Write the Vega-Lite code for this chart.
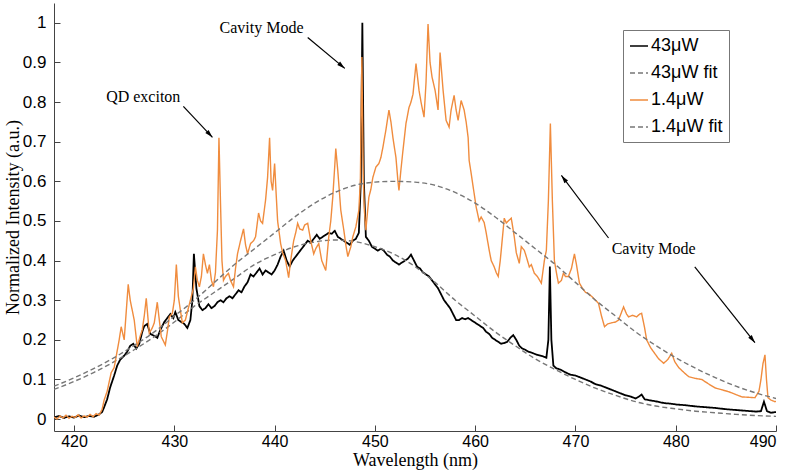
{
  "$schema": "https://vega.github.io/schema/vega-lite/v6.json",
  "width": 722,
  "height": 428,
  "autosize": {"type": "none"},
  "padding": {"left": 54, "top": 3, "right": 20, "bottom": 43},
  "background": "white",
  "config": {
    "view": {"stroke": null},
    "axis": {"grid": false, "domainColor": "#444", "tickColor": "#444", "labelColor": "#000", "labelFont": "Liberation Sans", "labelFontSize": 17, "titleFont": "Liberation Serif", "titleFontSize": 18, "titleFontWeight": "normal", "titleColor": "#000", "tickSize": -6, "domainWidth": 1, "tickWidth": 1}
  },
  "datasets": {
    "spec": [
      {"s":"43μW","wl":418.0,"v":0.004},{"s":"43μW","wl":418.5,"v":0.008},{"s":"43μW","wl":419.0,"v":0.003},{"s":"43μW","wl":419.5,"v":0.007},{"s":"43μW","wl":420.0,"v":0.004},{"s":"43μW","wl":420.5,"v":0.009},{"s":"43μW","wl":421.0,"v":0.005},{"s":"43μW","wl":421.5,"v":0.008},{"s":"43μW","wl":422.0,"v":0.006},{"s":"43μW","wl":422.5,"v":0.012},{"s":"43μW","wl":422.8,"v":0.018},{"s":"43μW","wl":423.0,"v":0.03},{"s":"43μW","wl":423.3,"v":0.05},{"s":"43μW","wl":423.6,"v":0.08},{"s":"43μW","wl":424.0,"v":0.11},{"s":"43μW","wl":424.3,"v":0.135},{"s":"43μW","wl":424.6,"v":0.15},{"s":"43μW","wl":425.0,"v":0.16},{"s":"43μW","wl":425.3,"v":0.17},{"s":"43μW","wl":425.6,"v":0.185},{"s":"43μW","wl":425.9,"v":0.19},{"s":"43μW","wl":426.2,"v":0.178},{"s":"43μW","wl":426.5,"v":0.19},{"s":"43μW","wl":426.8,"v":0.22},{"s":"43μW","wl":427.0,"v":0.235},{"s":"43μW","wl":427.3,"v":0.24},{"s":"43μW","wl":427.6,"v":0.215},{"s":"43μW","wl":428.0,"v":0.21},{"s":"43μW","wl":428.3,"v":0.205},{"s":"43μW","wl":428.6,"v":0.225},{"s":"43μW","wl":429.0,"v":0.245},{"s":"43μW","wl":429.3,"v":0.255},{"s":"43μW","wl":429.6,"v":0.265},{"s":"43μW","wl":429.9,"v":0.255},{"s":"43μW","wl":430.1,"v":0.27},{"s":"43μW","wl":430.4,"v":0.25},{"s":"43μW","wl":430.7,"v":0.245},{"s":"43μW","wl":431.0,"v":0.24},{"s":"43μW","wl":431.3,"v":0.23},{"s":"43μW","wl":431.6,"v":0.25},{"s":"43μW","wl":431.8,"v":0.3},{"s":"43μW","wl":431.95,"v":0.417},{"s":"43μW","wl":432.2,"v":0.33},{"s":"43μW","wl":432.5,"v":0.285},{"s":"43μW","wl":432.8,"v":0.275},{"s":"43μW","wl":433.1,"v":0.28},{"s":"43μW","wl":433.4,"v":0.29},{"s":"43μW","wl":433.7,"v":0.28},{"s":"43μW","wl":434.0,"v":0.285},{"s":"43μW","wl":434.3,"v":0.295},{"s":"43μW","wl":434.6,"v":0.3},{"s":"43μW","wl":434.9,"v":0.295},{"s":"43μW","wl":435.2,"v":0.305},{"s":"43μW","wl":435.5,"v":0.31},{"s":"43μW","wl":435.8,"v":0.305},{"s":"43μW","wl":436.1,"v":0.315},{"s":"43μW","wl":436.4,"v":0.325},{"s":"43μW","wl":436.7,"v":0.32},{"s":"43μW","wl":437.0,"v":0.335},{"s":"43μW","wl":437.3,"v":0.345},{"s":"43μW","wl":437.6,"v":0.365},{"s":"43μW","wl":437.9,"v":0.36},{"s":"43μW","wl":438.2,"v":0.37},{"s":"43μW","wl":438.5,"v":0.38},{"s":"43μW","wl":438.8,"v":0.365},{"s":"43μW","wl":439.1,"v":0.375},{"s":"43μW","wl":439.4,"v":0.37},{"s":"43μW","wl":439.7,"v":0.365},{"s":"43μW","wl":440.0,"v":0.375},{"s":"43μW","wl":440.3,"v":0.39},{"s":"43μW","wl":440.6,"v":0.41},{"s":"43μW","wl":440.9,"v":0.425},{"s":"43μW","wl":441.2,"v":0.4},{"s":"43μW","wl":441.5,"v":0.385},{"s":"43μW","wl":441.8,"v":0.4},{"s":"43μW","wl":442.1,"v":0.41},{"s":"43μW","wl":442.4,"v":0.42},{"s":"43μW","wl":442.7,"v":0.43},{"s":"43μW","wl":443.0,"v":0.44},{"s":"43μW","wl":443.3,"v":0.45},{"s":"43μW","wl":443.6,"v":0.445},{"s":"43μW","wl":443.9,"v":0.455},{"s":"43μW","wl":444.2,"v":0.465},{"s":"43μW","wl":444.5,"v":0.455},{"s":"43μW","wl":444.8,"v":0.46},{"s":"43μW","wl":445.1,"v":0.465},{"s":"43μW","wl":445.4,"v":0.47},{"s":"43μW","wl":445.7,"v":0.468},{"s":"43μW","wl":446.0,"v":0.475},{"s":"43μW","wl":446.3,"v":0.46},{"s":"43μW","wl":446.6,"v":0.455},{"s":"43μW","wl":446.9,"v":0.45},{"s":"43μW","wl":447.2,"v":0.445},{"s":"43μW","wl":447.5,"v":0.44},{"s":"43μW","wl":447.8,"v":0.45},{"s":"43μW","wl":448.1,"v":0.455},{"s":"43μW","wl":448.4,"v":0.47},{"s":"43μW","wl":448.6,"v":0.6},{"s":"43μW","wl":448.75,"v":1.0},{"s":"43μW","wl":448.9,"v":0.6},{"s":"43μW","wl":449.1,"v":0.46},{"s":"43μW","wl":449.4,"v":0.45},{"s":"43μW","wl":449.7,"v":0.435},{"s":"43μW","wl":450.0,"v":0.43},{"s":"43μW","wl":450.3,"v":0.425},{"s":"43μW","wl":450.6,"v":0.43},{"s":"43μW","wl":450.9,"v":0.425},{"s":"43μW","wl":451.2,"v":0.415},{"s":"43μW","wl":451.5,"v":0.41},{"s":"43μW","wl":451.8,"v":0.4},{"s":"43μW","wl":452.1,"v":0.395},{"s":"43μW","wl":452.4,"v":0.39},{"s":"43μW","wl":452.7,"v":0.395},{"s":"43μW","wl":453.0,"v":0.4},{"s":"43μW","wl":453.3,"v":0.405},{"s":"43μW","wl":453.6,"v":0.415},{"s":"43μW","wl":453.9,"v":0.4},{"s":"43μW","wl":454.2,"v":0.385},{"s":"43μW","wl":454.5,"v":0.38},{"s":"43μW","wl":454.8,"v":0.37},{"s":"43μW","wl":455.1,"v":0.365},{"s":"43μW","wl":455.4,"v":0.36},{"s":"43μW","wl":455.7,"v":0.35},{"s":"43μW","wl":456.0,"v":0.34},{"s":"43μW","wl":456.3,"v":0.33},{"s":"43μW","wl":456.6,"v":0.315},{"s":"43μW","wl":456.9,"v":0.3},{"s":"43μW","wl":457.2,"v":0.29},{"s":"43μW","wl":457.5,"v":0.28},{"s":"43μW","wl":457.8,"v":0.265},{"s":"43μW","wl":458.1,"v":0.25},{"s":"43μW","wl":458.4,"v":0.25},{"s":"43μW","wl":458.7,"v":0.255},{"s":"43μW","wl":459.0,"v":0.252},{"s":"43μW","wl":459.3,"v":0.255},{"s":"43μW","wl":459.6,"v":0.25},{"s":"43μW","wl":459.9,"v":0.245},{"s":"43μW","wl":460.2,"v":0.24},{"s":"43μW","wl":460.5,"v":0.235},{"s":"43μW","wl":460.8,"v":0.23},{"s":"43μW","wl":461.1,"v":0.22},{"s":"43μW","wl":461.4,"v":0.215},{"s":"43μW","wl":461.7,"v":0.205},{"s":"43μW","wl":462.0,"v":0.2},{"s":"43μW","wl":462.3,"v":0.195},{"s":"43μW","wl":462.6,"v":0.19},{"s":"43μW","wl":462.9,"v":0.192},{"s":"43μW","wl":463.2,"v":0.195},{"s":"43μW","wl":463.5,"v":0.205},{"s":"43μW","wl":463.8,"v":0.212},{"s":"43μW","wl":464.1,"v":0.2},{"s":"43μW","wl":464.4,"v":0.185},{"s":"43μW","wl":464.7,"v":0.178},{"s":"43μW","wl":465.0,"v":0.175},{"s":"43μW","wl":465.3,"v":0.17},{"s":"43μW","wl":465.6,"v":0.168},{"s":"43μW","wl":465.9,"v":0.165},{"s":"43μW","wl":466.2,"v":0.162},{"s":"43μW","wl":466.5,"v":0.16},{"s":"43μW","wl":466.8,"v":0.158},{"s":"43μW","wl":467.1,"v":0.155},{"s":"43μW","wl":467.3,"v":0.2},{"s":"43μW","wl":467.45,"v":0.385},{"s":"43μW","wl":467.6,"v":0.2},{"s":"43μW","wl":467.8,"v":0.135},{"s":"43μW","wl":468.1,"v":0.128},{"s":"43μW","wl":468.5,"v":0.125},{"s":"43μW","wl":469.0,"v":0.118},{"s":"43μW","wl":469.5,"v":0.112},{"s":"43μW","wl":470.0,"v":0.11},{"s":"43μW","wl":470.5,"v":0.105},{"s":"43μW","wl":471.0,"v":0.1},{"s":"43μW","wl":471.5,"v":0.095},{"s":"43μW","wl":472.0,"v":0.088},{"s":"43μW","wl":472.5,"v":0.085},{"s":"43μW","wl":473.0,"v":0.08},{"s":"43μW","wl":473.5,"v":0.075},{"s":"43μW","wl":474.0,"v":0.07},{"s":"43μW","wl":474.5,"v":0.065},{"s":"43μW","wl":475.0,"v":0.06},{"s":"43μW","wl":475.5,"v":0.057},{"s":"43μW","wl":476.0,"v":0.052},{"s":"43μW","wl":476.4,"v":0.058},{"s":"43μW","wl":476.6,"v":0.062},{"s":"43μW","wl":476.9,"v":0.05},{"s":"43μW","wl":477.5,"v":0.047},{"s":"43μW","wl":478.0,"v":0.045},{"s":"43μW","wl":478.5,"v":0.042},{"s":"43μW","wl":479.0,"v":0.04},{"s":"43μW","wl":479.5,"v":0.039},{"s":"43μW","wl":480.0,"v":0.037},{"s":"43μW","wl":481.0,"v":0.035},{"s":"43μW","wl":482.0,"v":0.032},{"s":"43μW","wl":483.0,"v":0.03},{"s":"43μW","wl":484.0,"v":0.028},{"s":"43μW","wl":485.0,"v":0.025},{"s":"43μW","wl":486.0,"v":0.023},{"s":"43μW","wl":487.0,"v":0.021},{"s":"43μW","wl":488.0,"v":0.019},{"s":"43μW","wl":488.5,"v":0.02},{"s":"43μW","wl":488.8,"v":0.044},{"s":"43μW","wl":489.1,"v":0.02},{"s":"43μW","wl":489.5,"v":0.016},{"s":"43μW","wl":490.0,"v":0.018},

      {"s":"43μW fit","wl":418,"v":0.075},{"s":"43μW fit","wl":420,"v":0.095},{"s":"43μW fit","wl":422,"v":0.118},{"s":"43μW fit","wl":424,"v":0.145},{"s":"43μW fit","wl":426,"v":0.175},{"s":"43μW fit","wl":428,"v":0.208},{"s":"43μW fit","wl":430,"v":0.245},{"s":"43μW fit","wl":432,"v":0.285},{"s":"43μW fit","wl":434,"v":0.32},{"s":"43μW fit","wl":436,"v":0.355},{"s":"43μW fit","wl":438,"v":0.39},{"s":"43μW fit","wl":440,"v":0.415},{"s":"43μW fit","wl":442,"v":0.435},{"s":"43μW fit","wl":444,"v":0.447},{"s":"43μW fit","wl":446,"v":0.452},{"s":"43μW fit","wl":448,"v":0.448},{"s":"43μW fit","wl":450,"v":0.435},{"s":"43μW fit","wl":452,"v":0.415},{"s":"43μW fit","wl":454,"v":0.385},{"s":"43μW fit","wl":456,"v":0.345},{"s":"43μW fit","wl":458,"v":0.3},{"s":"43μW fit","wl":460,"v":0.26},{"s":"43μW fit","wl":462,"v":0.22},{"s":"43μW fit","wl":464,"v":0.185},{"s":"43μW fit","wl":466,"v":0.152},{"s":"43μW fit","wl":468,"v":0.125},{"s":"43μW fit","wl":470,"v":0.1},{"s":"43μW fit","wl":472,"v":0.078},{"s":"43μW fit","wl":474,"v":0.06},{"s":"43μW fit","wl":476,"v":0.044},{"s":"43μW fit","wl":478,"v":0.033},{"s":"43μW fit","wl":480,"v":0.026},{"s":"43μW fit","wl":482,"v":0.02},{"s":"43μW fit","wl":484,"v":0.016},{"s":"43μW fit","wl":486,"v":0.012},{"s":"43μW fit","wl":488,"v":0.009},{"s":"43μW fit","wl":490,"v":0.007},

      {"s":"1.4μW fit","wl":418,"v":0.083},{"s":"1.4μW fit","wl":420,"v":0.104},{"s":"1.4μW fit","wl":422,"v":0.128},{"s":"1.4μW fit","wl":424,"v":0.155},{"s":"1.4μW fit","wl":426,"v":0.186},{"s":"1.4μW fit","wl":428,"v":0.22},{"s":"1.4μW fit","wl":430,"v":0.26},{"s":"1.4μW fit","wl":432,"v":0.3},{"s":"1.4μW fit","wl":434,"v":0.345},{"s":"1.4μW fit","wl":436,"v":0.39},{"s":"1.4μW fit","wl":438,"v":0.43},{"s":"1.4μW fit","wl":440,"v":0.47},{"s":"1.4μW fit","wl":442,"v":0.51},{"s":"1.4μW fit","wl":444,"v":0.545},{"s":"1.4μW fit","wl":446,"v":0.572},{"s":"1.4μW fit","wl":448,"v":0.59},{"s":"1.4μW fit","wl":450,"v":0.598},{"s":"1.4μW fit","wl":452,"v":0.6},{"s":"1.4μW fit","wl":454,"v":0.598},{"s":"1.4μW fit","wl":456,"v":0.59},{"s":"1.4μW fit","wl":458,"v":0.572},{"s":"1.4μW fit","wl":460,"v":0.545},{"s":"1.4μW fit","wl":462,"v":0.51},{"s":"1.4μW fit","wl":464,"v":0.47},{"s":"1.4μW fit","wl":466,"v":0.43},{"s":"1.4μW fit","wl":468,"v":0.39},{"s":"1.4μW fit","wl":470,"v":0.345},{"s":"1.4μW fit","wl":472,"v":0.3},{"s":"1.4μW fit","wl":474,"v":0.26},{"s":"1.4μW fit","wl":476,"v":0.22},{"s":"1.4μW fit","wl":478,"v":0.186},{"s":"1.4μW fit","wl":480,"v":0.155},{"s":"1.4μW fit","wl":482,"v":0.128},{"s":"1.4μW fit","wl":484,"v":0.104},{"s":"1.4μW fit","wl":486,"v":0.083},{"s":"1.4μW fit","wl":488,"v":0.066},{"s":"1.4μW fit","wl":490,"v":0.052},

      {"s":"1.4μW","wl":418.0,"v":0.005},{"s":"1.4μW","wl":418.3,"v":0.0},{"s":"1.4μW","wl":418.6,"v":0.008},{"s":"1.4μW","wl":418.9,"v":0.003},{"s":"1.4μW","wl":419.2,"v":0.01},{"s":"1.4μW","wl":419.5,"v":0.002},{"s":"1.4μW","wl":419.8,"v":0.007},{"s":"1.4μW","wl":420.1,"v":0.004},{"s":"1.4μW","wl":420.4,"v":0.011},{"s":"1.4μW","wl":420.7,"v":0.003},{"s":"1.4μW","wl":421.0,"v":0.008},{"s":"1.4μW","wl":421.3,"v":0.005},{"s":"1.4μW","wl":421.6,"v":0.012},{"s":"1.4μW","wl":421.9,"v":0.006},{"s":"1.4μW","wl":422.2,"v":0.014},{"s":"1.4μW","wl":422.5,"v":0.01},{"s":"1.4μW","wl":422.8,"v":0.025},{"s":"1.4μW","wl":423.0,"v":0.048},{"s":"1.4μW","wl":423.3,"v":0.07},{"s":"1.4μW","wl":423.7,"v":0.117},{"s":"1.4μW","wl":424.0,"v":0.13},{"s":"1.4μW","wl":424.2,"v":0.158},{"s":"1.4μW","wl":424.5,"v":0.2},{"s":"1.4μW","wl":424.7,"v":0.233},{"s":"1.4μW","wl":425.0,"v":0.2},{"s":"1.4μW","wl":425.2,"v":0.27},{"s":"1.4μW","wl":425.4,"v":0.34},{"s":"1.4μW","wl":425.6,"v":0.3},{"s":"1.4μW","wl":425.8,"v":0.275},{"s":"1.4μW","wl":426.0,"v":0.25},{"s":"1.4μW","wl":426.3,"v":0.183},{"s":"1.4μW","wl":426.6,"v":0.21},{"s":"1.4μW","wl":426.8,"v":0.225},{"s":"1.4μW","wl":427.0,"v":0.26},{"s":"1.4μW","wl":427.2,"v":0.305},{"s":"1.4μW","wl":427.5,"v":0.217},{"s":"1.4μW","wl":427.8,"v":0.23},{"s":"1.4μW","wl":428.0,"v":0.243},{"s":"1.4μW","wl":428.3,"v":0.295},{"s":"1.4μW","wl":428.5,"v":0.25},{"s":"1.4μW","wl":428.7,"v":0.208},{"s":"1.4μW","wl":429.1,"v":0.187},{"s":"1.4μW","wl":429.3,"v":0.22},{"s":"1.4μW","wl":429.5,"v":0.258},{"s":"1.4μW","wl":429.8,"v":0.267},{"s":"1.4μW","wl":430.0,"v":0.3},{"s":"1.4μW","wl":430.2,"v":0.39},{"s":"1.4μW","wl":430.4,"v":0.31},{"s":"1.4μW","wl":430.6,"v":0.275},{"s":"1.4μW","wl":430.8,"v":0.243},{"s":"1.4μW","wl":431.1,"v":0.25},{"s":"1.4μW","wl":431.4,"v":0.28},{"s":"1.4μW","wl":431.6,"v":0.3},{"s":"1.4μW","wl":431.9,"v":0.33},{"s":"1.4μW","wl":432.1,"v":0.384},{"s":"1.4μW","wl":432.3,"v":0.35},{"s":"1.4μW","wl":432.5,"v":0.334},{"s":"1.4μW","wl":432.7,"v":0.36},{"s":"1.4μW","wl":432.9,"v":0.417},{"s":"1.4μW","wl":433.1,"v":0.39},{"s":"1.4μW","wl":433.3,"v":0.368},{"s":"1.4μW","wl":433.5,"v":0.39},{"s":"1.4μW","wl":433.7,"v":0.35},{"s":"1.4μW","wl":433.9,"v":0.334},{"s":"1.4μW","wl":434.1,"v":0.37},{"s":"1.4μW","wl":434.3,"v":0.477},{"s":"1.4μW","wl":434.45,"v":0.71},{"s":"1.4μW","wl":434.6,"v":0.55},{"s":"1.4μW","wl":434.75,"v":0.4},{"s":"1.4μW","wl":434.9,"v":0.35},{"s":"1.4μW","wl":435.1,"v":0.36},{"s":"1.4μW","wl":435.4,"v":0.368},{"s":"1.4μW","wl":435.6,"v":0.35},{"s":"1.4μW","wl":435.9,"v":0.334},{"s":"1.4μW","wl":436.1,"v":0.38},{"s":"1.4μW","wl":436.3,"v":0.417},{"s":"1.4μW","wl":436.6,"v":0.45},{"s":"1.4μW","wl":436.9,"v":0.48},{"s":"1.4μW","wl":437.1,"v":0.44},{"s":"1.4μW","wl":437.3,"v":0.417},{"s":"1.4μW","wl":437.6,"v":0.443},{"s":"1.4μW","wl":437.9,"v":0.45},{"s":"1.4μW","wl":438.1,"v":0.46},{"s":"1.4μW","wl":438.4,"v":0.52},{"s":"1.4μW","wl":438.6,"v":0.5},{"s":"1.4μW","wl":438.8,"v":0.494},{"s":"1.4μW","wl":439.1,"v":0.553},{"s":"1.4μW","wl":439.3,"v":0.61},{"s":"1.4μW","wl":439.5,"v":0.71},{"s":"1.4μW","wl":439.65,"v":0.6},{"s":"1.4μW","wl":439.8,"v":0.577},{"s":"1.4μW","wl":440.0,"v":0.645},{"s":"1.4μW","wl":440.15,"v":0.57},{"s":"1.4μW","wl":440.3,"v":0.5},{"s":"1.4μW","wl":440.6,"v":0.443},{"s":"1.4μW","wl":440.8,"v":0.42},{"s":"1.4μW","wl":441.1,"v":0.4},{"s":"1.4μW","wl":441.4,"v":0.357},{"s":"1.4μW","wl":441.6,"v":0.4},{"s":"1.4μW","wl":441.9,"v":0.45},{"s":"1.4μW","wl":442.1,"v":0.47},{"s":"1.4μW","wl":442.3,"v":0.494},{"s":"1.4μW","wl":442.5,"v":0.48},{"s":"1.4μW","wl":442.8,"v":0.477},{"s":"1.4μW","wl":443.0,"v":0.49},{"s":"1.4μW","wl":443.3,"v":0.494},{"s":"1.4μW","wl":443.6,"v":0.45},{"s":"1.4μW","wl":443.9,"v":0.417},{"s":"1.4μW","wl":444.1,"v":0.43},{"s":"1.4μW","wl":444.4,"v":0.443},{"s":"1.4μW","wl":444.7,"v":0.4},{"s":"1.4μW","wl":445.1,"v":0.375},{"s":"1.4μW","wl":445.4,"v":0.46},{"s":"1.4μW","wl":445.6,"v":0.5},{"s":"1.4μW","wl":445.8,"v":0.56},{"s":"1.4μW","wl":446.0,"v":0.64},{"s":"1.4μW","wl":446.1,"v":0.683},{"s":"1.4μW","wl":446.3,"v":0.627},{"s":"1.4μW","wl":446.6,"v":0.527},{"s":"1.4μW","wl":446.9,"v":0.477},{"s":"1.4μW","wl":447.1,"v":0.44},{"s":"1.4μW","wl":447.3,"v":0.41},{"s":"1.4μW","wl":447.6,"v":0.435},{"s":"1.4μW","wl":447.8,"v":0.46},{"s":"1.4μW","wl":448.1,"v":0.485},{"s":"1.4μW","wl":448.4,"v":0.527},{"s":"1.4μW","wl":448.55,"v":0.6},{"s":"1.4μW","wl":448.7,"v":0.914},{"s":"1.4μW","wl":448.85,"v":0.6},{"s":"1.4μW","wl":448.95,"v":0.527},{"s":"1.4μW","wl":449.1,"v":0.477},{"s":"1.4μW","wl":449.4,"v":0.56},{"s":"1.4μW","wl":449.6,"v":0.58},{"s":"1.4μW","wl":449.8,"v":0.61},{"s":"1.4μW","wl":450.1,"v":0.636},{"s":"1.4μW","wl":450.4,"v":0.645},{"s":"1.4μW","wl":450.6,"v":0.66},{"s":"1.4μW","wl":450.8,"v":0.686},{"s":"1.4μW","wl":451.1,"v":0.73},{"s":"1.4μW","wl":451.4,"v":0.78},{"s":"1.4μW","wl":451.6,"v":0.75},{"s":"1.4μW","wl":451.8,"v":0.71},{"s":"1.4μW","wl":452.1,"v":0.66},{"s":"1.4μW","wl":452.3,"v":0.6},{"s":"1.4μW","wl":452.4,"v":0.577},{"s":"1.4μW","wl":452.6,"v":0.63},{"s":"1.4μW","wl":452.8,"v":0.678},{"s":"1.4μW","wl":453.1,"v":0.746},{"s":"1.4μW","wl":453.4,"v":0.786},{"s":"1.4μW","wl":453.6,"v":0.8},{"s":"1.4μW","wl":453.8,"v":0.82},{"s":"1.4μW","wl":454.1,"v":0.897},{"s":"1.4μW","wl":454.4,"v":0.83},{"s":"1.4μW","wl":454.6,"v":0.8},{"s":"1.4μW","wl":454.9,"v":0.762},{"s":"1.4μW","wl":455.1,"v":0.85},{"s":"1.4μW","wl":455.3,"v":0.997},{"s":"1.4μW","wl":455.5,"v":0.9},{"s":"1.4μW","wl":455.7,"v":0.863},{"s":"1.4μW","wl":456.0,"v":0.83},{"s":"1.4μW","wl":456.3,"v":0.78},{"s":"1.4μW","wl":456.5,"v":0.925},{"s":"1.4μW","wl":456.8,"v":0.83},{"s":"1.4μW","wl":457.1,"v":0.754},{"s":"1.4μW","wl":457.4,"v":0.737},{"s":"1.4μW","wl":457.6,"v":0.78},{"s":"1.4μW","wl":457.9,"v":0.817},{"s":"1.4μW","wl":458.1,"v":0.78},{"s":"1.4μW","wl":458.3,"v":0.754},{"s":"1.4μW","wl":458.6,"v":0.804},{"s":"1.4μW","wl":458.9,"v":0.78},{"s":"1.4μW","wl":459.1,"v":0.75},{"s":"1.4μW","wl":459.3,"v":0.71},{"s":"1.4μW","wl":459.4,"v":0.653},{"s":"1.4μW","wl":459.6,"v":0.62},{"s":"1.4μW","wl":459.8,"v":0.586},{"s":"1.4μW","wl":460.1,"v":0.535},{"s":"1.4μW","wl":460.4,"v":0.5},{"s":"1.4μW","wl":460.6,"v":0.51},{"s":"1.4μW","wl":460.9,"v":0.496},{"s":"1.4μW","wl":461.1,"v":0.47},{"s":"1.4μW","wl":461.4,"v":0.426},{"s":"1.4μW","wl":461.6,"v":0.4},{"s":"1.4μW","wl":461.9,"v":0.384},{"s":"1.4μW","wl":462.1,"v":0.37},{"s":"1.4μW","wl":462.3,"v":0.36},{"s":"1.4μW","wl":462.5,"v":0.4},{"s":"1.4μW","wl":462.6,"v":0.426},{"s":"1.4μW","wl":462.8,"v":0.48},{"s":"1.4μW","wl":462.9,"v":0.507},{"s":"1.4μW","wl":463.1,"v":0.495},{"s":"1.4μW","wl":463.3,"v":0.5},{"s":"1.4μW","wl":463.6,"v":0.507},{"s":"1.4μW","wl":463.9,"v":0.46},{"s":"1.4μW","wl":464.1,"v":0.42},{"s":"1.4μW","wl":464.4,"v":0.393},{"s":"1.4μW","wl":464.6,"v":0.435},{"s":"1.4μW","wl":464.9,"v":0.426},{"s":"1.4μW","wl":465.1,"v":0.41},{"s":"1.4μW","wl":465.4,"v":0.384},{"s":"1.4μW","wl":465.6,"v":0.39},{"s":"1.4μW","wl":465.9,"v":0.368},{"s":"1.4μW","wl":466.2,"v":0.36},{"s":"1.4μW","wl":466.6,"v":0.343},{"s":"1.4μW","wl":466.9,"v":0.4},{"s":"1.4μW","wl":467.1,"v":0.426},{"s":"1.4μW","wl":467.3,"v":0.55},{"s":"1.4μW","wl":467.5,"v":0.746},{"s":"1.4μW","wl":467.7,"v":0.55},{"s":"1.4μW","wl":467.9,"v":0.4},{"s":"1.4μW","wl":468.1,"v":0.37},{"s":"1.4μW","wl":468.3,"v":0.343},{"s":"1.4μW","wl":468.6,"v":0.35},{"s":"1.4μW","wl":468.8,"v":0.368},{"s":"1.4μW","wl":469.0,"v":0.36},{"s":"1.4μW","wl":469.3,"v":0.36},{"s":"1.4μW","wl":469.6,"v":0.38},{"s":"1.4μW","wl":469.9,"v":0.417},{"s":"1.4μW","wl":470.1,"v":0.39},{"s":"1.4μW","wl":470.4,"v":0.343},{"s":"1.4μW","wl":470.7,"v":0.33},{"s":"1.4μW","wl":471.0,"v":0.32},{"s":"1.4μW","wl":471.3,"v":0.317},{"s":"1.4μW","wl":471.6,"v":0.31},{"s":"1.4μW","wl":472.0,"v":0.3},{"s":"1.4μW","wl":472.3,"v":0.292},{"s":"1.4μW","wl":472.6,"v":0.26},{"s":"1.4μW","wl":472.9,"v":0.233},{"s":"1.4μW","wl":473.2,"v":0.24},{"s":"1.4μW","wl":473.6,"v":0.243},{"s":"1.4μW","wl":474.0,"v":0.245},{"s":"1.4μW","wl":474.3,"v":0.25},{"s":"1.4μW","wl":474.6,"v":0.27},{"s":"1.4μW","wl":474.8,"v":0.283},{"s":"1.4μW","wl":475.1,"v":0.265},{"s":"1.4μW","wl":475.3,"v":0.258},{"s":"1.4μW","wl":475.7,"v":0.262},{"s":"1.4μW","wl":476.1,"v":0.258},{"s":"1.4μW","wl":476.4,"v":0.265},{"s":"1.4μW","wl":476.6,"v":0.267},{"s":"1.4μW","wl":476.9,"v":0.23},{"s":"1.4μW","wl":477.1,"v":0.2},{"s":"1.4μW","wl":477.5,"v":0.18},{"s":"1.4μW","wl":477.9,"v":0.166},{"s":"1.4μW","wl":478.3,"v":0.152},{"s":"1.4μW","wl":478.8,"v":0.141},{"s":"1.4μW","wl":479.2,"v":0.15},{"s":"1.4μW","wl":479.6,"v":0.166},{"s":"1.4μW","wl":479.9,"v":0.145},{"s":"1.4μW","wl":480.3,"v":0.13},{"s":"1.4μW","wl":480.8,"v":0.118},{"s":"1.4μW","wl":481.3,"v":0.107},{"s":"1.4μW","wl":481.9,"v":0.103},{"s":"1.4μW","wl":482.6,"v":0.1},{"s":"1.4μW","wl":483.2,"v":0.09},{"s":"1.4μW","wl":483.9,"v":0.079},{"s":"1.4μW","wl":484.6,"v":0.074},{"s":"1.4μW","wl":485.3,"v":0.069},{"s":"1.4μW","wl":486.0,"v":0.062},{"s":"1.4μW","wl":486.6,"v":0.056},{"s":"1.4μW","wl":487.3,"v":0.055},{"s":"1.4μW","wl":487.9,"v":0.054},{"s":"1.4μW","wl":488.3,"v":0.07},{"s":"1.4μW","wl":488.5,"v":0.1},{"s":"1.4μW","wl":488.7,"v":0.14},{"s":"1.4μW","wl":488.9,"v":0.162},{"s":"1.4μW","wl":489.05,"v":0.1},{"s":"1.4μW","wl":489.2,"v":0.054},{"s":"1.4μW","wl":489.5,"v":0.048},{"s":"1.4μW","wl":489.9,"v":0.044},{"s":"1.4μW","wl":490.0,"v":0.045}
    ],
    "labels": [
      {"t": "QD exciton", "wl": 426.9, "v": 0.812},
      {"t": "Cavity Mode", "wl": 438.7, "v": 0.986},
      {"t": "Cavity Mode", "wl": 477.8, "v": 0.429}
    ],
    "arrows": [
      {"wl": 430.9, "v": 0.789, "wl2": 433.8, "v2": 0.711, "ang": 137},
      {"wl": 443.3, "v": 0.963, "wl2": 447.0, "v2": 0.885, "ang": 130},
      {"wl": 473.3, "v": 0.457, "wl2": 468.6, "v2": 0.615, "ang": 323},
      {"wl": 481.9, "v": 0.384, "wl2": 487.9, "v2": 0.193, "ang": 142}
    ]
  },
  "encoding": {
    "x": {"field": "wl", "type": "quantitative", "title": "Wavelength (nm)",
      "scale": {"domain": [418, 490], "nice": false, "zero": false},
      "axis": {"values": [420, 430, 440, 450, 460, 470, 480, 490], "format": "d", "labelPadding": 8, "labelFontSize": 16, "titlePadding": 2}},
    "y": {"field": "v", "type": "quantitative", "title": "Normalized Intensity (a.u.)",
      "scale": {"domain": [-0.03, 1.05], "nice": false, "zero": false},
      "axis": {"values": [0, 0.1, 0.2, 0.3, 0.4, 0.5, 0.6, 0.7, 0.8, 0.9, 1], "format": "~g", "labelPadding": 14, "titlePadding": 0}}
  },
  "layer": [
    {
      "data": {"name": "spec"},
      "transform": [{"filter": "datum.s === '43μW'"}],
      "mark": {"type": "line", "strokeWidth": 1.8, "clip": true},
      "encoding": {
        "color": {"field": "s", "type": "nominal", "scale": {"domain": ["43μW", "43μW fit", "1.4μW", "1.4μW fit"], "range": ["#000000", "#777777", "#f08c3e", "#777777"]},
          "legend": {"title": null, "orient": "none", "legendX": 569, "legendY": 27, "strokeColor": "#777", "fillColor": "white", "padding": 6, "symbolType": "stroke", "symbolSize": 324, "symbolStrokeWidth": 1.5, "labelFont": "Liberation Sans", "labelFontSize": 18, "labelColor": "#000", "labelOffset": 2, "rowPadding": 8, "labelLimit": 200}},
        "strokeDash": {"field": "s", "type": "nominal", "scale": {"domain": ["43μW", "43μW fit", "1.4μW", "1.4μW fit"], "range": [[1, 0], [5, 3], [1, 0], [5, 3]]}}
      }
    },
    {
      "data": {"name": "spec"},
      "transform": [{"filter": "datum.s === '43μW fit'"}],
      "mark": {"type": "line", "strokeWidth": 1.4, "clip": true, "interpolate": "monotone"},
      "encoding": {
        "color": {"field": "s", "type": "nominal"},
        "strokeDash": {"field": "s", "type": "nominal"}
      }
    },
    {
      "data": {"name": "spec"},
      "transform": [{"filter": "datum.s === '1.4μW'"}],
      "mark": {"type": "line", "strokeWidth": 1.4, "clip": true},
      "encoding": {
        "color": {"field": "s", "type": "nominal"},
        "strokeDash": {"field": "s", "type": "nominal"}
      }
    },
    {
      "data": {"name": "spec"},
      "transform": [{"filter": "datum.s === '1.4μW fit'"}],
      "mark": {"type": "line", "strokeWidth": 1.4, "clip": true, "interpolate": "monotone"},
      "encoding": {
        "color": {"field": "s", "type": "nominal"},
        "strokeDash": {"field": "s", "type": "nominal"}
      }
    },
    {
      "data": {"name": "labels"},
      "mark": {"type": "text", "font": "Liberation Serif", "fontSize": 16, "color": "#000", "align": "center", "baseline": "middle"},
      "encoding": {"text": {"field": "t"}}
    },
    {
      "data": {"name": "arrows"},
      "mark": {"type": "rule", "color": "#000", "strokeWidth": 1.2},
      "encoding": {"x2": {"field": "wl2"}, "y2": {"field": "v2"}}
    },
    {
      "data": {"name": "arrows"},
      "mark": {"type": "point", "shape": "M0,0L-0.45,1.6L0.45,1.6Z", "filled": true, "color": "#000", "size": 100, "opacity": 1},
      "encoding": {
        "x": {"field": "wl2", "type": "quantitative"},
        "y": {"field": "v2", "type": "quantitative"},
        "angle": {"field": "ang", "type": "quantitative", "scale": null}
      }
    }
  ]
}
